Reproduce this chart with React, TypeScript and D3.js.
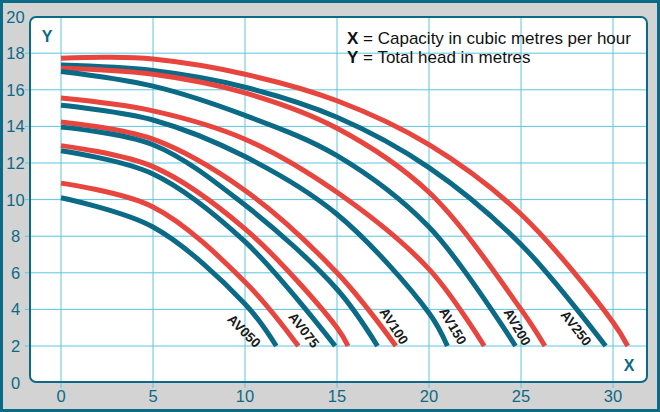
import React from 'react';
import * as d3 from 'd3';

// Pump curves: [capacity m³/h, head m]
const av250Red = [[0, 17.72], [2.5, 17.78], [5, 17.68], [10, 16.85], [15, 15.4], [20, 13.0], [25, 9.2], [30, 3.3], [30.8, 2]];
const av250Teal = [[0, 17.35], [5, 17.05], [10, 16.14], [15, 14.5], [20, 11.75], [25, 7.55], [29.6, 2]];
const av200Red = [[0, 17.18], [5, 16.85], [10, 15.83], [15, 13.9], [20, 10.4], [25, 4.0], [26.3, 2]];
const av200Teal = [[0, 17.0], [5, 16.2], [10, 14.6], [15, 12.4], [20, 8.5], [24.7, 2]];
const av150Red = [[0, 15.55], [5, 14.85], [10, 13.3], [15, 10.4], [20, 6.2], [23.0, 2]];
const av150Teal = [[0, 15.15], [5, 14.35], [10, 12.35], [15, 9.2], [20, 3.8], [21.0, 2]];
const av100Red = [[0, 14.24], [5, 13.3], [10, 10.5], [15, 6.0], [18.2, 2]];
const av100Teal = [[0, 13.96], [5, 13.0], [10, 9.7], [15, 5.1], [17.2, 2]];
const av075Red = [[0, 12.95], [5, 11.8], [10, 8.4], [15, 3.0], [15.6, 2]];
const av075Teal = [[0, 12.67], [5, 11.4], [10, 7.7], [14.9, 2]];
const av050Red = [[0, 10.9], [5, 9.6], [10, 5.5], [12.9, 2]];
const av050Teal = [[0, 10.1], [5, 8.5], [10, 4.3], [11.7, 2]];

const redCurves = [av250Red, av200Red, av150Red, av100Red, av075Red, av050Red];
const tealCurves = [av250Teal, av200Teal, av150Teal, av100Teal, av075Teal, av050Teal];

// model labels, placed along the curves (x, y in data units, angle in degrees)
const modelNames = ['AV050', 'AV075', 'AV100', 'AV150', 'AV200', 'AV250'];
const labelX = [9.95, 13.2, 18.1, 21.3, 24.8, 28.0];
const labelY = [2.82, 2.87, 3.09, 3.09, 3.04, 2.98];
const labelAngle = [45, 52, 57, 60, 60, 52];

const xTicks = [0, 5, 10, 15, 20, 25, 30];
const yTicks = [0, 2, 4, 6, 8, 10, 12, 14, 16, 18, 20];

const W = 660;
const H = 412;
const TEAL = '#0b6a86';
const RED = '#e8453f';
const GRID = '#5cc6de';
const FONT = '"Liberation Sans", Arial, Helvetica, sans-serif';

export default function App() {
  const x = d3.scaleLinear().domain([0, 30]).range([61, 613]);
  const y = d3.scaleLinear().domain([0, 20]).range([382.6, 16.6]);

  const plot = { left: 30, right: 647, top: 17, bottom: 382 };

  const line = d3.line<number[]>()
    .x(d => x(d[0]))
    .y(d => y(d[1]))
    .curve(d3.curveCatmullRom.alpha(0.5));

  return (
    <svg width={W} height={H} style={{ position: 'absolute', left: 0, top: 0 }} fontFamily={FONT}>
      {/* frame */}
      <rect x={1.5} y={1.5} width={W - 3} height={H - 3} fill="#d3d3d3" stroke={TEAL} strokeWidth={3} />
      <rect x={plot.left} y={plot.top} width={plot.right - plot.left} height={plot.bottom - plot.top}
        rx={6} fill="#fff" />

      {/* grid */}
      {yTicks.filter(t => t > 0 && t < 20).map(t => (
        <line key={'gy' + t} x1={25} x2={plot.right} y1={y(t)} y2={y(t)} stroke={GRID} strokeWidth={1} />
      ))}
      {xTicks.map(t => (
        <line key={'gx' + t} x1={x(t)} x2={x(t)} y1={plot.top} y2={388} stroke={GRID} strokeWidth={1} />
      ))}
      <rect x={plot.left} y={plot.top} width={plot.right - plot.left} height={plot.bottom - plot.top}
        rx={6} fill="none" stroke={TEAL} strokeWidth={2} />

      {/* tick labels */}
      {yTicks.map(t => (
        <text key={'ty' + t} x={15.5} y={y(t)} dy="0.36em" textAnchor="middle" fontSize={16.5} fill={TEAL}>{t}</text>
      ))}
      {xTicks.map(t => (
        <text key={'tx' + t} x={x(t)} y={396} dy="0.36em" textAnchor="middle" fontSize={16.5} fill={TEAL}>{t}</text>
      ))}

      {/* curves */}
      {redCurves.map((c, i) => (
        <g key={'c' + i}>
          <path d={line(c) || ''} fill="none" stroke={RED} strokeWidth={5} />
          <path d={line(tealCurves[i]) || ''} fill="none" stroke={TEAL} strokeWidth={5} />
        </g>
      ))}

      {/* model labels */}
      {modelNames.map((m, i) => (
        <text key={m} transform={`translate(${x(labelX[i])},${y(labelY[i])}) rotate(${labelAngle[i]})`}
          textAnchor="middle" dy="0.35em" fontSize={13.5} fontWeight="bold" fill="#1a1a1a">{m}</text>
      ))}

      {/* axis letters */}
      <text x={47} y={42} textAnchor="middle" fontSize={16} fontWeight="bold" fill={TEAL}>Y</text>
      <text x={629} y={371} textAnchor="middle" fontSize={16} fontWeight="bold" fill={TEAL}>X</text>

      {/* legend */}
      <text x={347} y={44} fontSize={17} fill="#111">
        <tspan fontWeight="bold">X</tspan> = Capacity in cubic metres per hour
      </text>
      <text x={347} y={63} fontSize={17} fill="#111">
        <tspan fontWeight="bold">Y</tspan> = Total head in metres
      </text>
    </svg>
  );
}
